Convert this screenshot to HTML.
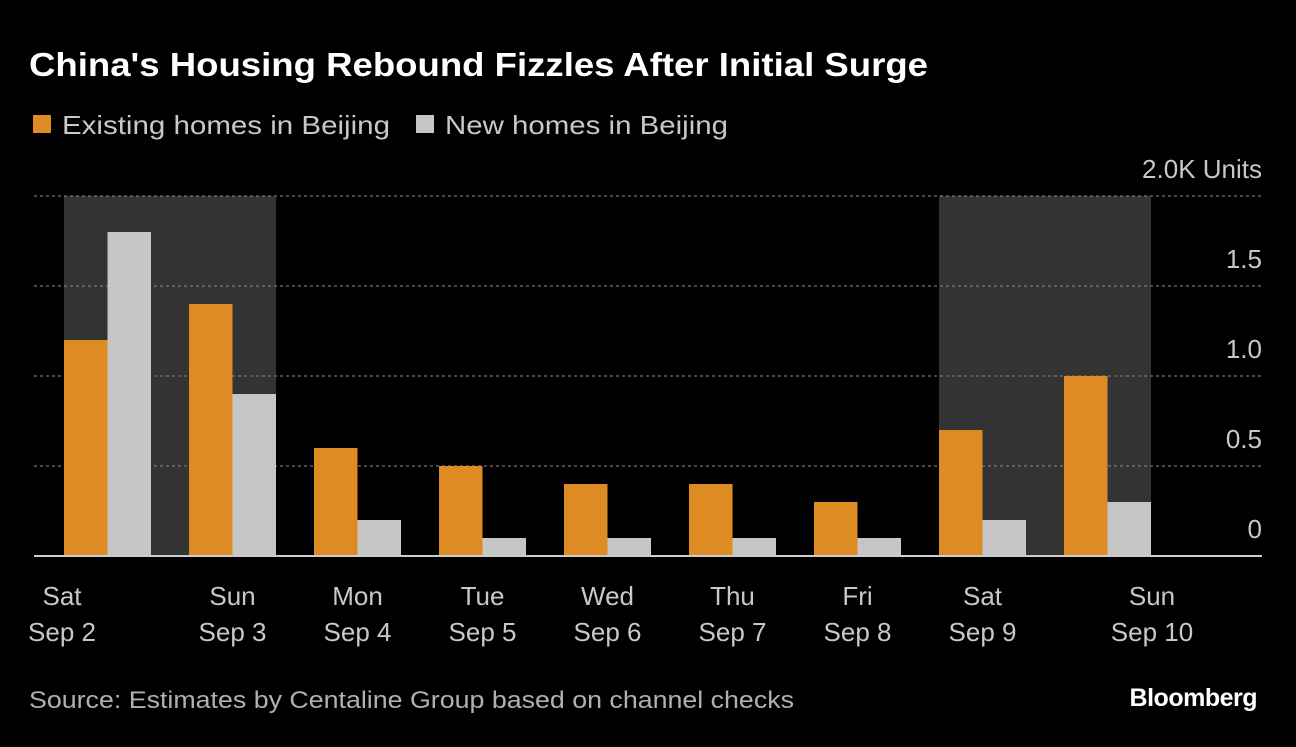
<!DOCTYPE html>
<html><head><meta charset="utf-8"><style>
body{margin:0;background:#000;width:1296px;height:742px;overflow:hidden;font-family:"Liberation Sans",sans-serif;}
</style></head><body>
<svg width="1296" height="742" xmlns="http://www.w3.org/2000/svg" id="chart">
<rect width="1296" height="742" fill="#000"/>
<text x="29" y="76" fill="#fff" font-size="33" font-weight="bold" textLength="899" lengthAdjust="spacingAndGlyphs">China's Housing Rebound Fizzles After Initial Surge</text>
<g>
<rect x="33" y="115" width="18" height="18" fill="#df8b24"/>
<text x="62" y="134" fill="#c8c8c8" font-size="26" textLength="328" lengthAdjust="spacingAndGlyphs">Existing homes in Beijing</text>
<rect x="416" y="115" width="18" height="18" fill="#c6c6c6"/>
<text x="445" y="134" fill="#c8c8c8" font-size="26" textLength="283" lengthAdjust="spacingAndGlyphs">New homes in Beijing</text>
</g>
<g id="plot"></g>
<text x="29" y="708" fill="#b0b0b0" font-size="24" textLength="765" lengthAdjust="spacingAndGlyphs">Source: Estimates by Centaline Group based on channel checks</text>
<text x="1257" y="706" fill="#fff" font-size="25" font-weight="bold" text-anchor="end" letter-spacing="-0.5">Bloomberg</text>
</svg>
<script>
const days = ["Sat","Sun","Mon","Tue","Wed","Thu","Fri","Sat","Sun"];
const dates = ["Sep 2","Sep 3","Sep 4","Sep 5","Sep 6","Sep 7","Sep 8","Sep 9","Sep 10"];
const existing = [1.2,1.4,0.6,0.5,0.4,0.4,0.3,0.7,1.0];
const newHomes = [1.8,0.9,0.2,0.1,0.1,0.1,0.1,0.2,0.3];
const weekend = [true,true,false,false,false,false,false,true,true];
const yTicks = [0,0.5,1.0,1.5,2.0];
const yTickLabels = ["0","0.5","1.0","1.5","2.0K Units"];

const NS="http://www.w3.org/2000/svg";
const g=document.getElementById('plot');
const y0=556, pxPer=180, x0=64, step=125, bw=43.5;
const yS=v=>y0-v*pxPer;
const xS=i=>x0+i*step;
function el(t,a){const e=document.createElementNS(NS,t);for(const k in a)e.setAttribute(k,a[k]);g.appendChild(e);return e;}
weekend.forEach((w,i)=>{ if(w && (i===0||!weekend[i-1])){
  let j=i; while(j+1<weekend.length&&weekend[j+1]) j++;
  const r=el('rect',{x:xS(i),y:yS(2),width:xS(j)+2*bw-xS(i),height:y0-yS(2),fill:'#333'});
  
  
}});
yTicks.forEach((v,i)=>{
  if(v>0){const l=el('line',{x1:34,x2:1262,y1:yS(v),y2:yS(v),stroke:'#777','stroke-width':1.3,'stroke-dasharray':'3,3'});
  
  }
  const t=el('text',{x:1262,y:yS(v)-18,fill:'#c8c8c8','font-size':26,'text-anchor':'end'});
  t.textContent=yTickLabels[i];
  
  
});
existing.forEach((v,i)=>{
  const r=el('rect',{x:xS(i),y:yS(v),width:bw,height:v*pxPer,fill:'#df8b24'});
  
  
});
newHomes.forEach((v,i)=>{
  const r=el('rect',{x:xS(i)+bw,y:yS(v),width:bw,height:v*pxPer,fill:'#c6c6c6'});
  
  
});
const base=el('line',{x1:34,x2:1262,y1:y0,y2:y0,stroke:'#ccc','stroke-width':2});


days.forEach((d,i)=>{
  let cx=xS(i)+bw;
  if(i===0) cx=62;
  if(i===days.length-1) cx=1152;
  const t1=el('text',{x:cx,y:605,fill:'#c8c8c8','font-size':26,'text-anchor':'middle'});
  t1.textContent=d;
  
  
  const t2=el('text',{x:cx,y:641,fill:'#c8c8c8','font-size':26,'text-anchor':'middle'});
  t2.textContent=dates[i];
  
  
});
</script>
</body></html>
